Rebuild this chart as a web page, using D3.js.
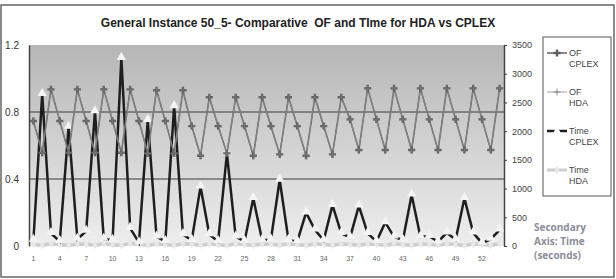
<!DOCTYPE html>
<html>
<head>
<meta charset="utf-8">
<script src="https://cdn.jsdelivr.net/npm/d3@7"></script>
<style>
  body { margin: 0; background: #fff; }
  svg { display: block; font-family: "Liberation Sans", Arial, sans-serif; }
</style>
</head>
<body>
<div id="chart"></div>
<script>
// instances 1..54
var instances = d3.range(1, 55);
var xTickLabels = [1, 4, 7, 10, 13, 16, 19, 22, 25, 28, 31, 34, 37, 40, 43, 46, 49, 52];
var leftTicks = [0, 0.4, 0.8, 1.2];
var rightTicks = [0, 500, 1000, 1500, 2000, 2500, 3000, 3500];

var ofCplex = [0.746, 0.557, 0.935, 0.746, 0.557, 0.935, 0.746, 0.557, 0.935, 0.746, 0.557, 0.935,
  0.746, 0.553, 0.93, 0.746, 0.553, 0.93, 0.716, 0.539, 0.888, 0.716, 0.553, 0.888,
  0.716, 0.539, 0.888, 0.716, 0.547, 0.888, 0.716, 0.539, 0.888, 0.716, 0.547, 0.888,
  0.756, 0.573, 0.941, 0.756, 0.573, 0.941, 0.756, 0.573, 0.941, 0.756, 0.573, 0.941,
  0.756, 0.573, 0.941, 0.756, 0.573, 0.941];
var ofHda = [0.746, 0.557, 0.935, 0.746, 0.557, 0.935, 0.746, 0.557, 0.935, 0.746, 0.557, 0.935,
  0.746, 0.553, 0.93, 0.746, 0.553, 0.93, 0.716, 0.539, 0.888, 0.716, 0.553, 0.888,
  0.716, 0.539, 0.888, 0.716, 0.547, 0.888, 0.716, 0.539, 0.888, 0.716, 0.547, 0.888,
  0.756, 0.573, 0.941, 0.756, 0.573, 0.941, 0.756, 0.573, 0.941, 0.756, 0.573, 0.941,
  0.756, 0.573, 0.941, 0.756, 0.573, 0.941];
var timeCplex = [100, 2640, 220, 80, 2070, 120, 260, 2340, 120, 100, 3270, 310,
  60, 2190, 160, 80, 2430, 200, 100, 1030, 200, 80, 1610, 160,
  80, 830, 100, 110, 1150, 100, 80, 580, 280, 100, 710, 220,
  150, 700, 220, 80, 410, 160, 100, 890, 160, 170, 75, 230,
  110, 830, 230, 50, 120, 280];
var timeHda = [30, 10, 40, 25, 10, 35, 30, 15, 40, 20, 10, 45,
  30, 10, 35, 25, 10, 40, 30, 15, 35, 20, 10, 40,
  25, 10, 35, 30, 15, 40, 25, 10, 35, 30, 10, 40,
  25, 15, 35, 30, 10, 40, 25, 10, 35, 30, 15, 40,
  25, 10, 35, 30, 10, 40];

var W = 616, H = 279;
var plot = {left: 29, right: 504, top: 45, bottom: 246};

var svg = d3.select("#chart").append("svg")
  .attr("width", W)
  .attr("height", H);

// outer frame
svg.append("rect")
  .attr("x", 1).attr("y", 5)
  .attr("width", 613).attr("height", 272)
  .attr("fill", "#fff")
  .attr("stroke", "#666")
  .attr("stroke-width", 1.5);

var grad = svg.append("defs").append("linearGradient")
  .attr("id", "bg")
  .attr("x1", 0).attr("y1", 0).attr("x2", 0).attr("y2", 1);
grad.append("stop").attr("offset", "0%").attr("stop-color", "#b6b6b6");
grad.append("stop").attr("offset", "100%").attr("stop-color", "#eeeeee");

svg.append("rect")
  .attr("x", plot.left).attr("y", plot.top)
  .attr("width", plot.right - plot.left)
  .attr("height", plot.bottom - plot.top)
  .attr("fill", "url(#bg)");

var x = d3.scaleBand()
  .domain(instances)
  .range([plot.left, plot.right]);
var cx = function(i) { return x(i) + x.bandwidth() / 2; };

var y = d3.scaleLinear().domain([0, 1.2]).range([plot.bottom, plot.top]);
var y2 = d3.scaleLinear().domain([0, 3500]).range([plot.bottom, plot.top]);

// gridlines
svg.append("g").selectAll("line")
  .data([0.4, 0.8])
  .enter().append("line")
  .attr("x1", plot.left).attr("x2", plot.right)
  .attr("y1", function(d) { return y(d); })
  .attr("y2", function(d) { return y(d); })
  .attr("stroke", "#3a3a3a")
  .attr("stroke-width", 1);

// left axis
var gl = svg.append("g")
  .attr("transform", "translate(" + plot.left + ",0)")
  .call(d3.axisLeft(y).tickValues(leftTicks).tickSize(0).tickPadding(10)
    .tickFormat(function(d) { return d === 0 ? "0" : d.toFixed(1); }));
gl.select(".domain").attr("stroke", "#444").attr("stroke-width", 1.5);
gl.selectAll("text").attr("font-size", 10).attr("fill", "#333")
  .attr("font-family", "Liberation Sans, Arial, sans-serif");

// right axis
var gr = svg.append("g")
  .attr("transform", "translate(" + plot.right + ",0)")
  .call(d3.axisRight(y2).tickValues(rightTicks).tickSize(3).tickSizeOuter(0).tickPadding(5)
    .tickFormat(d3.format("d")));
gr.select(".domain").attr("stroke", "#444").attr("stroke-width", 1.5);
gr.selectAll(".tick line").attr("stroke", "#444");
gr.selectAll("text").attr("font-size", 9).attr("fill", "#444")
  .attr("font-family", "Liberation Sans, Arial, sans-serif");

// x labels
svg.append("g").selectAll("text")
  .data(xTickLabels)
  .enter().append("text")
  .attr("x", function(d) { return cx(d); })
  .attr("y", 261)
  .attr("text-anchor", "middle")
  .attr("font-size", 7)
  .attr("fill", "#666")
  .text(function(d) { return d; });

// Time HDA (light grey, along zero)
var lineT2 = d3.line().x(function(d, i) { return cx(instances[i]); }).y(function(d) { return y2(d); });
svg.append("path")
  .datum(timeHda)
  .attr("d", lineT2)
  .attr("fill", "none")
  .attr("stroke", "#cdcdcd")
  .attr("stroke-width", 3.5);
svg.append("g").selectAll("path")
  .data(timeHda)
  .enter().append("path")
  .attr("transform", function(d, i) { return "translate(" + cx(instances[i]) + "," + y2(d) + ")"; })
  .attr("d", d3.symbol().type(d3.symbolDiamond).size(20))
  .attr("fill", "#e8e8e8");

// Time CPLEX (black with white triangles)
svg.append("path")
  .datum(timeCplex)
  .attr("d", lineT2)
  .attr("fill", "none")
  .attr("stroke", "#1e1e1e")
  .attr("stroke-width", 2.5)
  .attr("stroke-linejoin", "miter");
svg.append("g").selectAll("path")
  .data(timeCplex)
  .enter().append("path")
  .attr("transform", function(d, i) { return "translate(" + cx(instances[i]) + "," + (y2(d) - 1) + ")"; })
  .attr("d", d3.symbol().type(d3.symbolTriangle).size(38))
  .attr("fill", "#f4f4f4");

// OF lines
var lineOF = d3.line().x(function(d, i) { return cx(instances[i]); }).y(function(d) { return y(d); });
svg.append("path")
  .datum(ofCplex)
  .attr("d", lineOF)
  .attr("fill", "none")
  .attr("stroke", "#6a6a6a")
  .attr("stroke-width", 1.6);
svg.append("path")
  .datum(ofHda)
  .attr("d", lineOF)
  .attr("fill", "none")
  .attr("stroke", "#8a8a8a")
  .attr("stroke-width", 0.8);
svg.append("g").selectAll("path")
  .data(ofCplex)
  .enter().append("path")
  .attr("transform", function(d, i) { return "translate(" + cx(instances[i]) + "," + y(d) + ")"; })
  .attr("d", d3.symbol().type(d3.symbolCross).size(28))
  .attr("fill", "#5e5e5e");
svg.append("g").selectAll("path")
  .data(ofHda)
  .enter().append("path")
  .attr("transform", function(d, i) { return "translate(" + cx(instances[i]) + "," + y(d) + ")"; })
  .attr("d", "M-3.5,0H3.5M0,-3.5V3.5")
  .attr("stroke", "#777")
  .attr("stroke-width", 0.8);

// title
svg.append("text")
  .attr("x", 298).attr("y", 27)
  .attr("text-anchor", "middle")
  .attr("font-size", 12)
  .attr("font-weight", "bold")
  .attr("fill", "#222")
  .attr("xml:space", "preserve")
  .text("General Instance 50_5- Comparative  OF and TIme for HDA vs CPLEX");

// legend
var lg = svg.append("g");
lg.append("rect")
  .attr("x", 543).attr("y", 37)
  .attr("width", 68).attr("height", 159)
  .attr("fill", "#fff")
  .attr("stroke", "#555")
  .attr("stroke-width", 1);

var legendItems = [
  {l1: "OF", l2: "CPLEX", y: 53},
  {l1: "OF", l2: "HDA", y: 92},
  {l1: "Time", l2: "CPLEX", y: 131},
  {l1: "Time", l2: "HDA", y: 170}
];
var lx1 = 547, lx2 = 567, lmid = 557;
// OF CPLEX
lg.append("line").attr("x1", lx1).attr("x2", lx2).attr("y1", 53).attr("y2", 53)
  .attr("stroke", "#6a6a6a").attr("stroke-width", 1.6);
lg.append("path").attr("transform", "translate(" + lmid + ",53)")
  .attr("d", d3.symbol().type(d3.symbolCross).size(28)).attr("fill", "#5e5e5e");
// OF HDA
lg.append("line").attr("x1", lx1).attr("x2", lx2).attr("y1", 92).attr("y2", 92)
  .attr("stroke", "#8a8a8a").attr("stroke-width", 0.8);
lg.append("path").attr("transform", "translate(" + lmid + ",92)")
  .attr("d", "M-3.5,0H3.5M0,-3.5V3.5").attr("stroke", "#777").attr("stroke-width", 0.8);
// Time CPLEX
lg.append("line").attr("x1", lx1).attr("x2", lx2).attr("y1", 131).attr("y2", 131)
  .attr("stroke", "#1e1e1e").attr("stroke-width", 2.5);
lg.append("path").attr("transform", "translate(" + lmid + ",131)")
  .attr("d", d3.symbol().type(d3.symbolTriangle).size(30)).attr("fill", "#fff");
// Time HDA
lg.append("line").attr("x1", lx1).attr("x2", lx2).attr("y1", 170).attr("y2", 170)
  .attr("stroke", "#cdcdcd").attr("stroke-width", 3);
lg.append("path").attr("transform", "translate(" + lmid + ",170)")
  .attr("d", d3.symbol().type(d3.symbolDiamond).size(20)).attr("fill", "#e8e8e8");

legendItems.forEach(function(it) {
  var t = lg.append("text")
    .attr("x", 569).attr("y", it.y + 3)
    .attr("font-size", 9)
    .attr("fill", "#444");
  t.append("tspan").attr("x", 569).text(it.l1);
  t.append("tspan").attr("x", 569).attr("dy", 11).text(it.l2);
});

// secondary axis note
var note = svg.append("text")
  .attr("font-family", "Open Sans, Lato, sans-serif")
  .attr("font-size", 10)
  .attr("font-weight", "bold")
  .attr("fill", "#8c8c9a");
["Secondary", "Axis: Time", "(seconds)"].forEach(function(s, i) {
  note.append("tspan").attr("x", 534).attr("y", 231 + i * 14).text(s);
});
</script>
</body>
</html>
